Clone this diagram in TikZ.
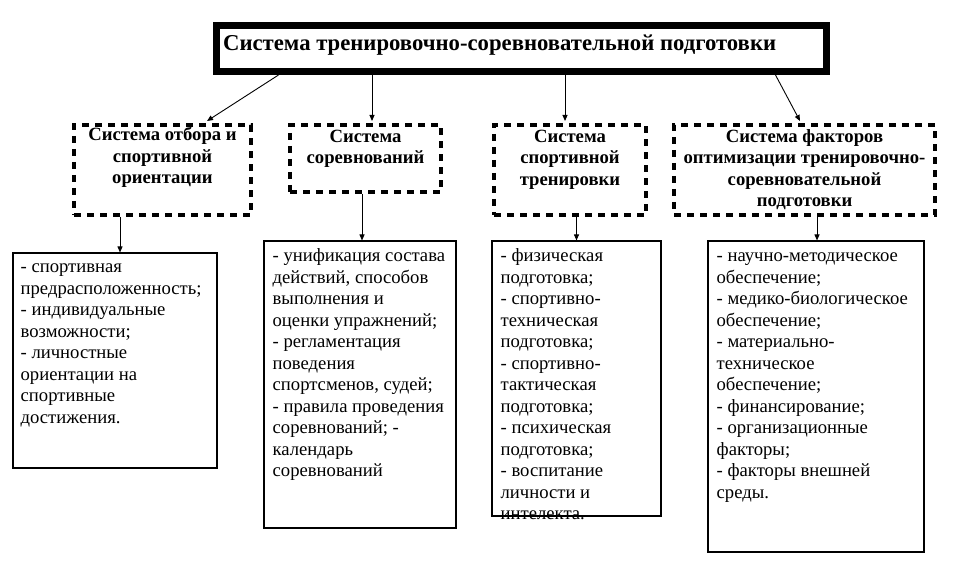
\documentclass[tikz,border=0pt]{standalone}
\usepackage{fontspec}
\setmainfont{Liberation Serif}
\usetikzlibrary{arrows.meta}
\begin{document}
\begin{tikzpicture}[x=1pt, y=-1pt,
    every node/.style={inner sep=0pt},
    mainbox/.style={draw, line width=7pt},
    selbox/.style={draw, line width=4pt, dash pattern=on 7pt off 6pt},
    listbox/.style={draw, line width=1.1pt},
    head/.style={font=\bfseries\fontsize{18.67}{21.5}\selectfont, align=center, anchor=north},
    body/.style={font=\fontsize{18.67}{21.5}\selectfont, align=left, anchor=north west},
    arr/.style={-{Triangle[length=6pt,width=5pt]}, line width=0.9pt}]
    \useasboundingbox (0,0) rectangle (961,577);
    \node[mainbox, minimum width=610pt, minimum height=46pt] (title) at (521.5,48.5) {};
    \node[anchor=base west, font=\bfseries\fontsize{22.7}{26}\selectfont] (titletext)
        at ([xshift=10pt,yshift=-2pt]title.west) {Система тренировочно-соревновательной подготовки};

    \node[selbox, minimum width=177pt, minimum height=90pt] (sel) at (162.5,170) {};
    \node[selbox, minimum width=151pt, minimum height=67pt] (comp) at (365.5,158.5) {};
    \node[selbox, minimum width=152pt, minimum height=90pt] (trn) at (570,170) {};
    \node[selbox, minimum width=261pt, minimum height=90pt] (fac) at (804.5,170) {};
    \node[head] (seltext) at ([yshift=-2.5pt]sel.north) {\strut Система отбора и\\спортивной\\ориентации};
    \node[head] (comptext) at ([yshift=-4pt]comp.north) {\strut Система\\соревнований};
    \node[head] (trntext) at ([yshift=-4pt]trn.north) {\strut Система\\спортивной\\тренировки};
    \node[head] (factext) at ([yshift=-4pt]fac.north) {\strut Система факторов\\оптимизации тренировочно-\\соревновательной\\подготовки};

    \node[listbox, minimum width=204pt, minimum height=215pt] (lowA) at (115,360.5) {};
    \node[listbox, minimum width=192pt, minimum height=287pt] (lowB) at (360,384.5) {};
    \node[listbox, minimum width=169pt, minimum height=275pt] (lowC) at (576.5,378.5) {};
    \node[listbox, minimum width=216pt, minimum height=311pt] (lowD) at (816,396.5) {};
    \node[body] (lowAtext) at ([xshift=8pt,yshift=-5pt]lowA.north west) {\strut - спортивная\\предрасположенность;\\- индивидуальные\\возможности;\\- личностные\\ориентации на\\спортивные\\достижения.};
    \node[body] (lowBtext) at ([xshift=9pt,yshift=-6pt]lowB.north west) {\strut - унификация состава\\действий, способов\\выполнения и\\оценки упражнений;\\- регламентация\\поведения\\спортсменов, судей;\\- правила проведения\\соревнований; -\\календарь\\соревнований};
    \node[body] (lowCtext) at ([xshift=9pt,yshift=-6pt]lowC.north west) {\strut - физическая\\подготовка;\\- спортивно-\\техническая\\подготовка;\\- спортивно-\\тактическая\\подготовка;\\- психическая\\подготовка;\\- воспитание\\личности и\\интелекта.};
    \node[body] (lowDtext) at ([xshift=9pt,yshift=-6pt]lowD.north west) {\strut - научно-методическое\\обеспечение;\\- медико-биологическое\\обеспечение;\\- материально-\\техническое\\обеспечение;\\- финансирование;\\- организационные\\факторы;\\- факторы внешней\\среды.};

    \coordinate (selIn) at ([xshift=44.5pt,yshift=2pt]sel.north);
    \coordinate (compIn) at ([xshift=6.5pt,yshift=2pt]comp.north);
    \coordinate (trnIn) at ([xshift=-5pt,yshift=2pt]trn.north);
    \coordinate (facIn) at ([xshift=-4.5pt,yshift=2pt]fac.north);
    \draw[arr] ([xshift=65.5pt]title.south west) -- (selIn);
    \draw[arr] (title.south -| compIn) -- (compIn);
    \draw[arr] (title.south -| trnIn) -- (trnIn);
    \draw[arr] ([xshift=-54.5pt]title.south east) -- (facIn);

    \coordinate (lowAIn) at ([xshift=5pt]lowA.north);
    \coordinate (lowBIn) at ([xshift=2pt]lowB.north);
    \coordinate (lowDIn) at ([xshift=1pt]lowD.north);
    \draw[arr] (sel.south -| lowAIn) -- (lowAIn);
    \draw[arr] (comp.south -| lowBIn) -- (lowBIn);
    \draw[arr] (trn.south -| lowC.north) -- (lowC.north);
    \draw[arr] (fac.south -| lowDIn) -- (lowDIn);
\end{tikzpicture}
\end{document}
